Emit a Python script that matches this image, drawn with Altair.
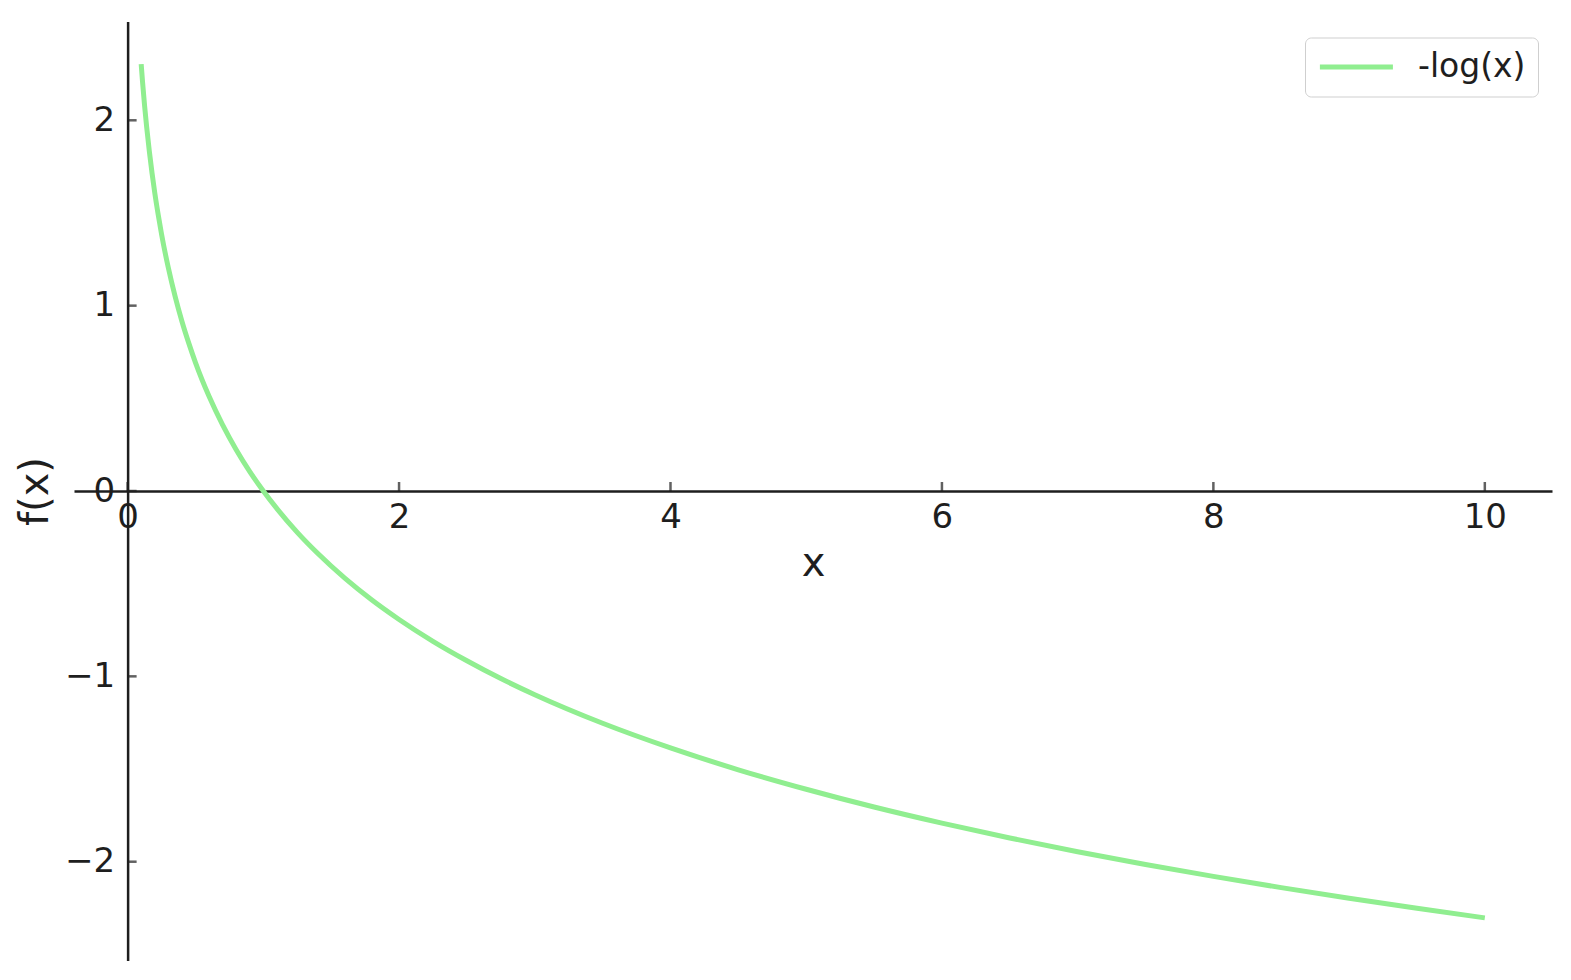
import altair as alt
import pandas as pd

# values
xs = [0.1, 0.11, 0.125, 0.14, 0.16, 0.18, 0.2, 0.225, 0.25, 0.3, 0.35, 0.4, 0.45, 0.5,
      0.6, 0.7, 0.8, 0.9, 1.0, 1.1, 1.25, 1.4, 1.6, 1.8, 2.0, 2.25, 2.5, 2.75, 3.0,
      3.5, 4.0, 4.5, 5.0, 5.5, 6.0, 6.5, 7.0, 7.5, 8.0, 8.5, 9.0, 9.5, 10.0]
ys = [2.303, 2.207, 2.079, 1.966, 1.833, 1.715, 1.609, 1.492, 1.386, 1.204, 1.050, 0.916,
      0.799, 0.693, 0.511, 0.357, 0.223, 0.105, 0.000, -0.095, -0.223, -0.336, -0.470,
      -0.588, -0.693, -0.811, -0.916, -1.012, -1.099, -1.253, -1.386, -1.504, -1.609,
      -1.705, -1.792, -1.872, -1.946, -2.015, -2.079, -2.140, -2.197, -2.251, -2.303]
series_name = "-log(x)"
x_ticks = [0, 2, 4, 6, 8, 10]
y_ticks = [-2, -1, 0, 1, 2]
x_domain = [-0.395, 10.495]
y_domain = [-2.533, 2.533]

W, H = 1478, 939
TXT = "#1e1e1e"
GREEN = "#90ee90"
FONT = "DejaVu Sans"

line_df = pd.DataFrame({"x": xs, "y": ys, "s": [series_name] * len(xs)})
xt_df = pd.DataFrame({"x": x_ticks, "y": [0] * len(x_ticks)})
yt_df = pd.DataFrame({"x": [0] * len(y_ticks), "y": y_ticks})

x_scale = alt.Scale(domain=x_domain, nice=False, zero=False)
y_scale = alt.Scale(domain=y_domain, nice=False, zero=False)

x_axis = alt.Axis(
    values=x_ticks, format="d", title="x", offset=-H / 2,
    tickSize=0, labelPadding=9, labelFlush=False, labelOverlap=False,
    domainColor=TXT, domainWidth=2.5, labelColor=TXT, labelFontSize=34, labelFont=FONT,
    titleColor=TXT, titleFontSize=40, titleFont=FONT, titleFontWeight="normal",
    titleY=84, titleBaseline="alphabetic", grid=False,
)
y_axis = alt.Axis(
    values=y_ticks, format="d", title="f(x)", offset=-W * 0.395 / 10.89,
    tickSize=0, labelPadding=13, labelFlush=False, labelOverlap=False,
    domainColor=TXT, domainWidth=2.5, labelColor=TXT, labelFontSize=34, labelFont=FONT,
    titleColor=TXT, titleFontSize=40, titleFont=FONT, titleFontWeight="normal",
    titleX=-80, titleY=H / 2, titleAngle=-90, titleAlign="center",
    titleBaseline="alphabetic", grid=False,
)

line = alt.Chart(line_df).mark_line(strokeWidth=5, interpolate="monotone").encode(
    x=alt.X("x:Q", scale=x_scale, axis=x_axis),
    y=alt.Y("y:Q", scale=y_scale, axis=y_axis),
    color=alt.Color(
        "s:N",
        scale=alt.Scale(domain=[series_name], range=[GREEN]),
        legend=alt.Legend(
            title=None, orient="none", legendX=1231, legendY=16,
            symbolType="M-1,0H4", symbolSize=853, symbolStrokeWidth=5,
            labelFontSize=33, labelFont=FONT, labelColor=TXT, labelOffset=66,
            padding=12, strokeColor="#cfcfcf", cornerRadius=6,
            fillColor="white",
        ),
    ),
)

xticks = alt.Chart(xt_df).mark_tick(
    orient="vertical", size=9, thickness=2.5, color=TXT, yOffset=-4.5
).encode(
    x=alt.X("x:Q", scale=x_scale, axis=x_axis),
    y=alt.Y("y:Q", scale=y_scale, axis=y_axis),
)

yticks = alt.Chart(yt_df).mark_tick(
    orient="horizontal", size=9, thickness=2.5, color=TXT, xOffset=4.5
).encode(
    x=alt.X("x:Q", scale=x_scale, axis=x_axis),
    y=alt.Y("y:Q", scale=y_scale, axis=y_axis),
)

chart = alt.layer(line, xticks, yticks).properties(
    width=W, height=H,
    autosize=alt.AutoSizeParams(type="none"),
    padding={"left": 66, "top": 13.5, "right": 10, "bottom": 10},
    background="white",
).configure_view(stroke=None)

chart.save("out.html", embed_options={"renderer": "svg", "actions": False})
